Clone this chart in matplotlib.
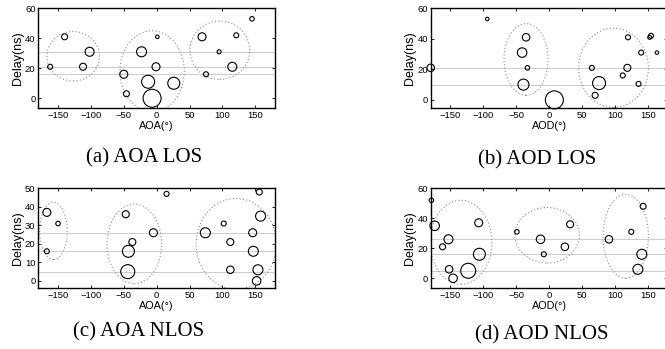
#!/usr/bin/env python3
# Delay vs angle scatter, four panels (AOA/AOD, LOS/NLOS)
import matplotlib
matplotlib.use("Agg")
import matplotlib.pyplot as plt
from matplotlib.patches import Ellipse

# ----------------------- Data -----------------------
# (a) AOA LOS
a_ang   = [-140, -162, -112, -102, 1, -23, -1, -50, -46, -13, -7, 26, 69, 121, 95, 75, 115, 145]
a_delay = [41, 21, 21, 31, 41, 31, 21, 16, 3, 11, 0, 10, 41, 42, 31, 16, 21, 53]
a_size  = [6, 5, 7, 9, 3.5, 10, 8, 8, 6, 13, 18, 12, 8, 5, 4, 5, 9, 4.5]
a_lines = [31, 21, 16]
a_clust = [(-127, 28, 80, 33), (-7, 18, 98, 54), (96, 32, 91, 39)]

# (b) AOD LOS
b_ang   = [-94, -180, -35, -41, -33, -39, 8, 65, 76, 70, 120, 155, 153, 140, 164, 119, 112, 136]
b_delay = [53, 21, 41, 31, 21, 10, 0, 21, 11, 3, 41, 42, 41, 31, 31, 21, 16, 10.5]
b_size  = [3.5, 7.5, 7.5, 9.5, 4.5, 11, 18, 5, 13, 6, 5, 5, 4, 5, 3.5, 7, 5, 5]
b_lines = [21, 10]
b_clust = [(-35, 26.5, 67, 47), (98, 21, 106, 52)]

# (c) AOA NLOS
c_ang   = [-167, -150, -167, 15, -47, -5, -37, -43, -44, 74, 102, 112, 112, 156, 158, 146, 147, 154, 152]
c_delay = [37, 31, 16, 47, 36, 26, 21, 16, 5, 26, 31, 21, 6, 48, 35, 26, 16, 6, 0]
c_size  = [8, 4.5, 5, 5, 7, 8, 7, 12, 14, 10, 5, 7, 7.5, 6, 10, 8, 10, 10, 8.5]
c_lines = [26, 16, 5]
c_clust = [(-157, 27, 42, 31), (-34, 20, 83, 43), (121, 20, 122, 49)]

# (d) AOD NLOS
d_ang   = [-179, -174, -153, -162, -107, -106, -152, -146, -123, -49, -13, -8, 32, 24, 91, 125, 143, 141, 135]
d_delay = [52, 35, 26, 21, 37, 16, 6, 0, 5, 31, 26, 16, 36, 21, 26, 31, 48, 16, 6]
d_size  = [4.5, 9.5, 9, 6, 8, 12, 7.5, 8.5, 15, 4.5, 8.5, 5, 7, 7.5, 7.5, 5, 6, 10, 10]
d_lines = [26, 16, 5]
d_clust = [(-134, 24, 94, 56), (-3, 28.7, 98, 37), (116.5, 28, 69, 56)]

SANS = ["Liberation Sans", "DejaVu Sans"]
SERIF = ["Liberation Serif", "DejaVu Serif"]

fig = plt.figure(figsize=(6.65, 3.49), dpi=100)

panels = [
    # rect in figure fraction, data, xlabel, ylim, yticks, caption, caption pos (px)
    ([0.0576, 0.6897, 0.356, 0.2865], (a_ang, a_delay, a_size, a_lines, a_clust),
     "AOA(°)", (-6.7, 60), [0, 20, 40, 60], "(a) AOA LOS", (144, 158)),
    ([0.6477, 0.6897, 0.356, 0.2865], (b_ang, b_delay, b_size, b_lines, b_clust),
     "AOD(°)", (-5.5, 60), [0, 20, 40, 60], "(b) AOD LOS", (537, 160)),
    ([0.0576, 0.1739, 0.356, 0.2865], (c_ang, c_delay, c_size, c_lines, c_clust),
     "AOA(°)", (-4, 50), [0, 10, 20, 30, 40, 50], "(c) AOA NLOS", (139, 332)),
    ([0.6477, 0.1739, 0.356, 0.2865], (d_ang, d_delay, d_size, d_lines, d_clust),
     "AOD(°)", (-6.7, 60), [0, 20, 40, 60], "(d) AOD NLOS", (542, 335)),
]

for rect, (ang, delay, size, lines, clusters), xlabel, ylim, yticks, caption, cpos in panels:
    ax = fig.add_axes(rect)
    for yl in lines:
        ax.axhline(yl, color="#c4c4c4", lw=0.6, zorder=1)
    for cx, cy, w, h in clusters:
        ax.add_patch(Ellipse((cx, cy), w, h, fill=False, ls=(0, (1, 2)),
                             ec="#8a8a8a", lw=0.8, zorder=2))
    ax.scatter(ang, delay, s=[(d * 0.72) ** 2 for d in size], facecolors="none",
               edgecolors="k", linewidths=0.8, zorder=3, clip_on=False)
    ax.set_xlim(-180, 180)
    ax.set_ylim(*ylim)
    ax.set_xticks([-150, -100, -50, 0, 50, 100, 150])
    ax.set_yticks(yticks)
    ax.tick_params(direction="in", top=True, right=True, length=2.5, width=0.6,
                   labelsize=6.8, pad=2)
    for lab in ax.get_xticklabels() + ax.get_yticklabels():
        lab.set_family(SANS)
    for sp in ax.spines.values():
        sp.set_linewidth(1.0)
    ax.set_xlabel(xlabel, fontsize=7.8, family=SANS, labelpad=1)
    ax.set_ylabel("Delay(ns)", fontsize=9, family=SANS, labelpad=1)
    fig.text(cpos[0] / 665, 1 - cpos[1] / 349, caption, ha="center", va="center",
             fontsize=15, family=SERIF)

fig.savefig("out.png", dpi=100)
